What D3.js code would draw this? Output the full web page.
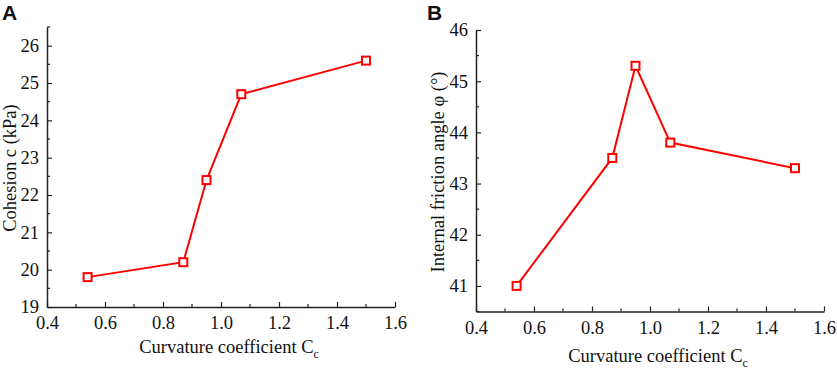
<!DOCTYPE html>
<html lang="en">
<head>
<meta charset="UTF-8">
<title>Cohesion and friction angle vs Cc</title>
<script src="https://cdn.jsdelivr.net/npm/d3@7/dist/d3.min.js"></script>
<style>
  body { margin: 0; background: #fff; }
  svg { display: block; }
</style>
</head>
<body>
<script>
// data
var curvature = [0.54, 0.87, 0.95, 1.07, 1.5];
var cohesion = [19.8, 20.2, 22.4, 24.7, 25.6];
var frictionAngle = [41.0, 43.5, 45.3, 43.8, 43.3];
var xTicks = [0.4, 0.6, 0.8, 1.0, 1.2, 1.4, 1.6];
var cohesionTicks = [19, 20, 21, 22, 23, 24, 25, 26];
var frictionTicks = [41, 42, 43, 44, 45, 46];

var SERIF = "Liberation Serif";
var W = 837, H = 369;
var svg = d3.select("body").append("svg").attr("width", W).attr("height", H);

function panel(cfg) {
  var g = svg.append("g");
  var x = d3.scaleLinear().domain([0.4, 1.6]).range([cfg.left, cfg.right]);
  var y = d3.scaleLinear().domain(cfg.yDomain).range([cfg.bottom, cfg.top]);

  // minor ticks
  var xMinor = d3.range(0.5, 1.6, 0.2);
  g.selectAll(".xm").data(xMinor).enter().append("line")
    .attr("x1", d => x(d)).attr("x2", d => x(d))
    .attr("y1", cfg.bottom).attr("y2", cfg.bottom - 3)
    .attr("stroke", "#222").attr("stroke-width", 1.2);
  var yMinor = cfg.yTicks.map(d => d + 0.5).filter(d => d <= cfg.yDomain[1]);
  if (cfg.yDomain[0] < cfg.yTicks[0]) yMinor.unshift(cfg.yTicks[0] - 0.5);
  g.selectAll(".ym").data(yMinor).enter().append("line")
    .attr("x1", cfg.left).attr("x2", cfg.left + 3)
    .attr("y1", d => y(d)).attr("y2", d => y(d))
    .attr("stroke", "#222").attr("stroke-width", 1.2);

  var xAxis = d3.axisBottom(x).tickValues(xTicks).tickFormat(d3.format(".1f"))
    .tickSizeInner(-5).tickSizeOuter(0).tickPadding(9);
  var gx = g.append("g").attr("transform", "translate(0," + cfg.bottom + ")").call(xAxis);
  var yAxis = d3.axisLeft(y).tickValues(cfg.yTicks).tickFormat(d3.format("d"))
    .tickSizeInner(-5).tickSizeOuter(0).tickPadding(8);
  var gy = g.append("g").attr("transform", "translate(" + cfg.left + ",0)").call(yAxis);
  [gx, gy].forEach(a => {
    a.selectAll(".tick text")
      .style("font-family", SERIF).style("font-size", "18.5px").attr("fill", "#111");
    a.select(".domain").attr("stroke", "#222").attr("stroke-width", 1.5);
    a.selectAll(".tick line").attr("stroke", "#222").attr("stroke-width", 1.2);
  });

  var line = d3.line().x((d, i) => x(curvature[i])).y(d => y(d));
  g.append("path").datum(cfg.values).attr("d", line)
    .attr("fill", "none").attr("stroke", "#ff0000").attr("stroke-width", 2);
  var s = 8;
  g.selectAll(".pt").data(cfg.values).enter().append("rect")
    .attr("x", (d, i) => x(curvature[i]) - s / 2).attr("y", d => y(d) - s / 2)
    .attr("width", s).attr("height", s)
    .attr("fill", "#fff").attr("stroke", "#ff0000").attr("stroke-width", 2);

  var xt = g.append("text").style("font-family", SERIF).style("font-size", "18.5px").attr("fill", "#111")
    .attr("text-anchor", "middle")
    .attr("x", (cfg.left + cfg.right) / 2 + 8).attr("y", cfg.xTitleY);
  xt.append("tspan").text("Curvature coefficient C");
  xt.append("tspan").style("font-size", "12px").attr("dy", 5).text("c");

  g.append("text").style("font-family", SERIF).style("font-size", "18.5px").attr("fill", "#111")
    .attr("text-anchor", "middle")
    .attr("transform", "translate(" + cfg.yTitleX + "," + cfg.yTitleMid + ") rotate(-90)")
    .text(cfg.yTitle);

  g.append("text").style("font-family", "Liberation Sans")
    .style("font-size", "21px").attr("font-weight", "bold").attr("fill", "#111")
    .attr("x", cfg.labX).attr("y", 20).text(cfg.label);
}

panel({ label: "A", labX: 2, left: 47, right: 395, top: 27, bottom: 307,
  yDomain: [19, 26.5], yTicks: cohesionTicks, values: cohesion,
  yTitle: "Cohesion c (kPa)", yTitleX: 16, yTitleMid: 168, xTitleY: 353 });
panel({ label: "B", labX: 427, left: 476, right: 824, top: 30, bottom: 311.5,
  yDomain: [40.5, 46], yTicks: frictionTicks, values: frictionAngle,
  yTitle: "Internal friction angle φ (°)", yTitleX: 444, yTitleMid: 172, xTitleY: 362 });
</script>
</body>
</html>
